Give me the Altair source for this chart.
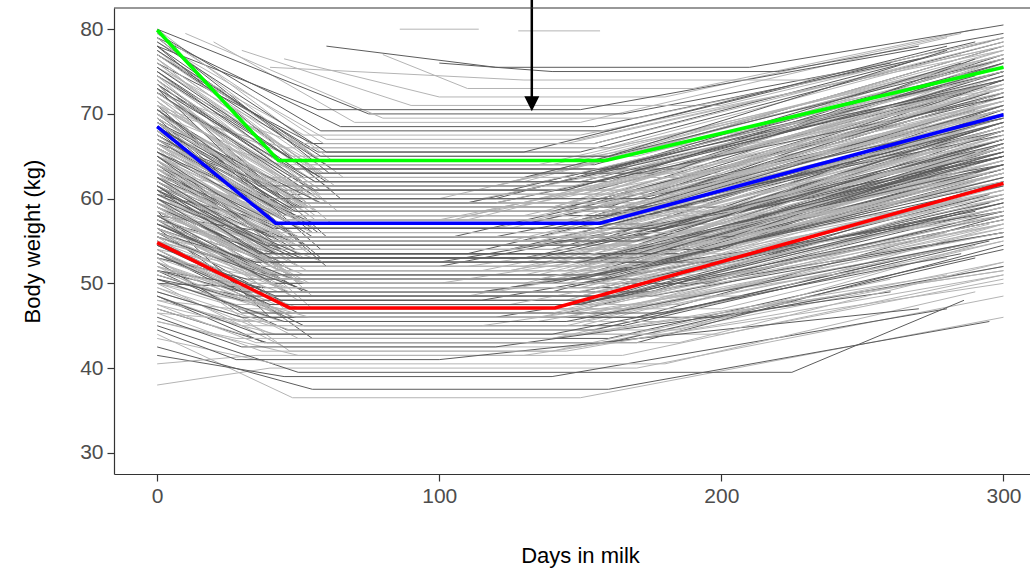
import altair as alt
import pandas as pd

# ---------------- individual animal curves (start, trough start, trough end, end) ----
d0 = [0,0,0,0,0,0,0,0,
      0,0,0,0,0,0,0,0,0,0,0,0,0,0,0,0,0,0,0,0,
      0,0,0,0,0,0,0,0,0,0,0,0,0,0,0,0,0,0,0,0,0,0,0,0,0,0,0,0,
      0,0,0,0,0,0,0,0,0,0,0,0,0,0,0,0,0,0,0,0,0,0,0,0,0,0,0,0,
      0,0,0,0,0,0,0,0,0,0,0,0,0,0,0,0,0,0,0,0,0,0,0,0,
      0,0,0,0,0,0,0,0,0,0,0,0,0,0,0,0,
      0,0,20,0,0,30,0,45,10,0,
      80,60,86,128,40,100]
w0 = [44.0,38.0,42.5,41.5,40.5,45.0,43.5,45.5,
      50.0,48.5,52.0,47.5,51.5,49.0,53.5,50.5,46.5,54.0,52.5,48.0,55.0,51.0,56.5,49.5,53.0,47.0,55.5,50.0,
      56.0,53.5,58.0,55.0,52.0,57.5,59.0,54.5,56.5,51.5,60.0,57.0,55.5,61.0,53.0,58.5,56.0,62.0,59.5,54.0,60.5,57.0,63.0,52.5,58.0,61.5,55.0,50.0,
      62.5,59.0,64.0,61.0,57.5,65.5,60.0,63.0,58.5,66.0,62.0,59.5,64.5,67.0,61.5,63.5,58.0,68.0,65.0,60.5,66.5,62.5,69.0,57.0,64.0,70.0,59.0,55.5,
      67.5,64.0,70.5,66.0,62.5,71.5,68.5,65.0,72.5,69.5,63.5,73.0,67.0,70.0,74.0,66.5,71.0,68.0,75.0,64.5,72.0,69.0,61.0,76.0,
      73.5,76.5,70.0,78.0,74.5,71.0,77.0,75.5,72.5,79.0,68.5,77.5,74.0,70.5,80.0,76.0,
      78.5,79.5,78.5,80.0,77.0,77.5,79.0,76.5,79.5,78.0,
      77.0,78.0,80.0,79.8,75.5,76.0]
d1 = [48,40,55,45,35,50,42,50,
      45,38,50,42,46,40,52,44,36,48,45,40,50,43,55,41,47,39,49,44,
      46,42,50,44,40,48,52,43,46,38,54,45,44,50,40,47,43,53,48,41,50,45,55,39,46,51,42,36,
      48,44,52,46,42,54,45,49,43,53,47,42,50,55,45,48,40,56,51,44,52,46,58,41,49,57,43,38,
      50,45,54,48,43,56,51,46,57,52,42,55,47,53,58,45,50,48,60,43,56,50,40,62,
      52,58,47,60,54,48,57,53,50,61,44,56,51,45,62,55,
      60,58,70,75,52,90,65,100,80,57,
      110,120,114,157,130,140]
w1 = [36.5,40.0,37.5,39.0,41.5,39.5,40.5,41.5,
      42.5,43.0,43.5,44.0,44.5,45.0,45.0,45.5,45.5,46.0,46.0,46.5,46.5,46.5,43.5,44.0,42.0,43.0,45.0,47.0,
      47.5,47.5,48.0,48.0,48.5,48.5,49.0,49.0,49.5,49.5,50.0,50.0,50.5,50.5,50.5,51.0,51.0,51.5,51.5,51.5,52.0,52.0,47.0,48.0,49.0,50.0,51.0,49.5,
      52.5,52.5,53.0,53.0,53.5,53.5,54.0,54.0,54.5,54.5,55.0,55.0,55.5,55.5,55.5,56.0,56.0,56.5,56.5,57.0,57.0,52.0,53.0,54.0,55.0,56.0,53.5,52.5,
      57.5,57.5,58.0,58.0,58.5,58.5,59.0,59.0,59.5,59.5,60.0,60.0,60.5,60.5,61.0,61.0,61.5,61.5,62.0,57.0,58.0,59.0,60.0,61.0,
      62.5,63.0,63.5,64.0,64.5,65.0,65.5,66.0,66.5,63.0,64.0,65.0,62.0,66.0,64.5,66.5,
      67.0,68.0,69.0,70.0,67.5,71.0,68.5,72.0,69.5,70.5,
      73.0,75.5,80.0,79.8,74.0,75.0]
d2 = [150,170,160,140,130,225,180,165,
      150,160,140,175,155,145,165,150,135,170,150,160,145,155,160,150,140,170,150,165,
      150,160,145,155,170,150,140,160,150,165,155,145,160,150,170,150,155,145,160,150,165,150,140,160,175,150,155,145,
      150,160,145,155,165,150,160,140,155,150,165,150,145,160,150,155,170,150,160,145,155,150,160,140,165,150,155,175,
      150,160,145,155,165,150,160,150,145,155,170,150,160,150,145,155,165,150,160,150,155,145,170,150,
      150,160,145,155,150,165,150,160,145,155,150,170,150,160,145,155,
      150,160,150,165,150,200,155,180,170,150,
      190,210,114,157,230,220]
d3 = [300,300,295,280,300,286,290,300,
      300,290,300,300,285,300,295,300,270,300,300,290,300,280,300,300,260,300,295,300,
      300,300,290,300,300,285,300,300,295,300,300,280,300,300,290,300,300,300,295,300,300,285,300,300,300,270,300,290,
      300,300,300,295,300,300,300,290,300,300,300,285,300,300,300,295,300,300,300,290,300,300,300,280,300,300,300,300,
      300,300,300,295,300,300,290,300,300,300,300,285,300,300,300,295,300,300,300,280,300,300,300,300,
      300,300,290,300,300,295,300,285,300,300,300,290,300,280,300,300,
      300,290,280,260,300,295,270,285,250,300,
      290,300,114,157,300,270]
w3 = [46.0,48.5,45.5,47.0,50.0,48.0,49.0,51.0,
      52.5,53.0,55.0,52.0,54.5,56.5,55.0,57.0,53.5,58.0,55.5,57.5,59.0,56.0,54.0,51.5,50.5,54.5,57.0,60.0,
      60.5,58.5,61.0,62.0,59.5,60.0,63.0,61.5,62.5,60.0,64.0,61.5,63.5,65.0,62.0,64.5,62.5,66.0,65.5,63.0,66.5,64.0,59.0,57.5,62.0,61.0,64.5,58.5,
      67.0,65.0,68.0,66.5,65.5,69.0,67.5,68.0,66.0,70.0,68.5,66.5,69.5,71.0,68.0,69.0,67.0,71.5,70.5,68.5,72.0,64.0,66.0,64.5,70.0,69.0,68.5,63.5,
      72.5,71.0,73.0,72.0,70.5,74.0,73.0,72.5,75.0,74.0,71.5,74.5,75.0,74.5,76.0,73.5,76.5,75.5,77.0,68.0,70.0,72.0,73.0,74.0,
      76.5,77.5,76.0,78.0,77.0,77.5,78.5,77.0,78.0,75.0,73.5,75.5,74.0,74.0,73.0,79.0,
      78.0,78.5,79.0,76.0,77.5,78.5,76.5,79.5,75.0,79.5,
      80.0,80.5,80.0,79.8,79.0,78.0]
shade = [0,0,1,1,0,1,0,0,
         0,1,0,0,1,0,1,0,0,1,0,0,1,0,1,0,0,1,0,0,
         1,0,0,1,0,0,1,0,0,1,0,0,1,0,0,1,0,0,1,0,0,1,0,0,1,0,0,1,
         0,1,0,0,1,0,0,1,0,0,1,0,0,1,0,0,1,0,0,1,0,0,1,0,0,1,0,0,
         1,0,0,1,0,0,1,0,0,1,0,0,1,0,0,1,0,0,1,0,0,1,0,0,
         1,0,0,1,0,0,1,0,0,1,0,0,1,0,0,1,
         0,1,0,1,0,0,1,0,0,1,
         0,1,0,0,0,1]

# second group of animals (all start at day 0)
w0_b = [58.5,61.0,64.5,52.5,66.0,55.0,69.5,60.0,57.5,71.0,63.0,50.5,73.5,65.5,59.5,68.0,54.0,74.5,62.0,66.5,
        56.5,70.5,48.5,76.5,64.0,58.0,72.0,53.5,67.0,61.5,78.0,47.0,69.0,63.5,57.0,75.0,51.0,70.0,65.0,59.0,
        73.0,55.5,67.5,62.5,77.5,49.0,71.5,64.5,58.5,74.0,52.0,68.5,60.5,79.0,56.0,66.0,45.5,72.5,63.0,54.5,
        70.5,61.0,76.0,50.5,67.0,57.5,73.5,59.5,65.5,53.0,69.5,62.0,46.0,75.5,55.0,64.0,60.0,71.0,51.5,66.5,
        58.0,77.0,53.5,68.0,62.5,48.0,72.5,56.5,65.0,59.0,74.5,50.0,69.0,61.5,55.5,70.0,44.5,63.5,57.0,67.5]
d1_b = [40,45,55,30,50,35,60,40,38,58,45,28,60,47,40,52,32,62,42,50,
        35,55,30,64,44,38,56,32,48,40,65,30,50,42,36,60,30,52,45,38,
        57,34,48,41,63,30,53,44,37,58,31,49,39,66,35,46,28,55,42,33,
        51,40,61,30,47,36,56,38,45,32,50,41,30,59,34,43,39,52,30,46,
        37,62,32,48,41,29,54,35,44,38,58,30,49,40,34,51,28,42,36,47]
w1_b = [46.0,47.0,48.5,46.5,50.0,48.5,52.0,50.5,49.5,54.0,51.5,47.5,55.5,53.0,51.0,54.5,49.0,57.0,53.5,55.0,
        51.0,56.0,45.0,58.5,54.0,52.5,57.5,50.0,56.0,54.0,60.0,44.0,57.5,55.5,52.0,59.5,48.0,58.0,56.5,53.5,
        60.0,51.5,58.5,56.0,61.5,46.0,59.5,57.0,53.0,61.0,49.0,59.0,55.0,62.5,52.5,58.0,43.5,60.5,56.5,51.0,
        59.5,55.5,62.0,48.5,58.5,53.5,61.0,54.5,57.5,50.5,60.0,56.0,42.5,63.0,52.0,57.0,55.0,61.0,49.0,58.5,
        54.0,63.5,50.0,59.5,56.5,45.5,61.5,52.5,58.0,54.5,62.5,47.0,60.0,55.5,51.5,60.5,41.0,57.0,53.0,59.0]
d2_b = [120,200,110,180,130,210,100,190,125,200,115,185,105,195,135,180,120,205,110,190,
        130,175,115,200,125,185,105,195,140,180,120,200,110,190,130,175,115,205,125,185,
        100,195,140,180,120,200,110,190,130,175,115,205,125,185,100,195,140,180,120,200,
        110,190,130,175,115,205,125,185,100,195,140,180,120,200,110,190,130,175,115,205,
        125,185,100,195,140,180,120,200,110,190,130,175,115,205,125,185,100,195,140,180]
d3_b = [300,300,290,285,300,300,300,295,300,300,280,300,300,300,290,300,300,300,285,300,
        300,300,280,300,295,300,300,300,290,300,300,300,285,300,300,300,270,300,300,295,
        300,300,300,290,300,300,300,285,300,300,300,300,295,300,300,300,280,300,300,300,
        290,300,300,300,300,285,300,300,300,300,295,300,260,300,300,300,285,300,300,300,
        300,290,300,300,300,300,300,295,300,300,300,280,300,300,300,300,270,300,290,300]
w3_b = [56.0,55.0,60.0,54.5,63.5,57.0,65.0,60.5,61.0,66.5,62.5,55.5,70.5,64.0,63.5,67.0,60.0,70.0,67.5,66.5,
        63.0,70.5,53.0,72.5,68.0,63.0,73.5,58.5,71.0,65.5,76.0,50.5,72.0,66.0,64.5,73.5,57.0,70.0,70.5,63.5,
        75.5,59.0,72.5,66.0,77.5,52.0,74.0,67.5,65.0,74.5,58.0,69.0,68.5,76.5,64.0,68.0,51.0,74.0,69.5,57.0,
        73.0,65.0,77.0,56.0,71.5,60.5,75.0,64.0,71.0,57.5,73.5,66.5,49.0,76.0,61.5,67.0,67.0,73.0,58.5,68.5,
        65.5,76.5,60.5,70.0,68.0,51.5,75.5,59.5,70.0,63.0,76.5,54.0,72.5,64.0,62.0,71.0,47.0,66.5,63.0,69.5]
shade_b = [1,0,0,1,0,0,1,0,0,1,0,0,1,0,0,1,0,0,1,0,
           0,1,0,0,1,0,0,1,0,0,1,0,0,1,0,0,1,0,0,1,
           0,0,1,0,0,1,0,0,1,0,0,1,0,0,1,0,0,1,0,0,
           1,0,0,1,0,0,1,0,0,1,0,0,1,0,0,1,0,0,1,0,
           0,1,0,0,1,0,0,1,0,0,1,0,0,1,0,0,1,0,0,1]

# third group of animals (all start at day 0)
w0_c = [60.5,57.0,63.5,66.0,54.5,69.0,61.5,58.5,72.0,64.5,51.5,67.5,59.5,74.5,62.0,56.5,70.5,65.0,53.0,68.0,
        61.0,77.0,58.0,63.0,71.5,55.5,66.5,49.5,73.0,60.0,64.0,57.5,69.5,62.5,75.5,52.5,67.0,59.0,71.0,65.5,
        54.0,61.5,78.5,56.0,68.5,63.5,47.5,72.5,58.5,66.0,60.5,74.0,53.5,69.0,62.0,57.0,76.5,64.5,50.5,70.0,
        59.5,65.5,55.0,73.5,61.0,67.5,48.5,71.0,63.0,58.0,79.5,66.5,54.5,69.5,60.0,64.0,52.0,75.0,57.5,68.0,
        62.5,56.0,72.5,65.0,51.0,70.5,59.0,63.5,77.5,55.5,67.0,61.5,46.5,73.0,58.5,66.5,53.5,69.0,64.5,60.0]
d1_c = [44,50,38,55,42,47,36,52,58,41,49,45,39,56,43,53,48,37,51,46,
        40,57,44,50,38,54,42,47,36,59,45,41,52,48,55,39,46,43,57,50,
        37,53,60,44,49,40,35,55,47,42,51,38,46,58,43,48,54,39,45,52,
        41,56,47,37,50,44,36,53,48,40,59,45,42,51,38,55,46,49,43,57,
        39,52,47,41,54,44,36,50,58,45,48,42,37,56,46,51,40,53,44,49]
w1_c = [52.0,49.5,54.5,56.5,48.0,58.0,53.5,51.0,60.5,55.0,46.0,57.5,52.5,62.0,54.0,50.0,59.0,56.0,47.0,58.5,
        53.0,64.0,50.5,55.5,60.0,49.0,57.0,44.5,61.5,52.5,55.5,50.0,59.0,54.5,63.0,47.5,58.0,51.5,60.0,56.5,
        48.5,54.0,65.5,49.5,58.5,55.0,43.0,61.0,51.0,57.0,53.0,62.5,47.5,59.5,54.0,50.5,64.0,56.0,45.5,60.0,
        52.0,57.0,49.0,62.0,53.5,58.0,44.0,60.5,55.0,51.0,66.5,57.5,48.5,59.5,52.5,56.0,46.5,63.5,50.5,58.5,
        54.5,50.0,61.5,56.5,46.0,60.0,52.0,55.5,65.0,49.5,58.0,53.5,42.0,62.0,51.5,57.5,47.5,59.0,56.0,53.0]
d2_c = [150,165,140,175,155,130,185,145,160,170,135,150,180,125,165,155,140,190,145,160,
        170,135,155,120,175,150,145,185,130,160,155,140,165,150,175,125,160,145,135,180,
        150,165,130,155,170,140,185,145,160,150,135,175,155,120,165,150,140,190,145,160,
        170,130,155,150,175,145,140,185,135,160,155,145,165,120,150,180,140,160,135,170,
        150,165,130,155,145,175,140,185,160,150,135,170,145,155,125,165,150,140,180,155]
d3_c = [300,295,300,290,300,300,285,300,295,300,300,290,300,300,280,300,295,300,300,290,
        300,300,285,300,295,300,300,290,300,300,295,300,300,285,300,300,290,300,300,295,
        300,300,280,300,300,295,300,290,300,300,300,285,300,300,295,300,300,270,300,300,
        290,300,300,295,300,300,285,300,300,300,300,295,300,290,300,300,300,285,300,295,
        300,300,290,300,300,295,300,300,280,300,300,290,300,300,295,300,285,300,300,300]
w3_c = [63.0,60.5,66.0,68.5,58.0,71.0,64.5,62.5,73.5,67.0,56.5,70.0,63.5,75.0,66.5,61.0,72.5,68.0,57.5,70.5,
        65.0,76.5,62.0,67.5,72.0,59.5,69.5,54.5,74.0,64.5,68.0,61.5,71.5,66.0,76.0,58.5,70.5,63.0,73.0,68.5,
        59.0,66.0,78.0,61.0,71.0,67.0,52.5,74.5,62.5,69.0,65.5,75.5,58.0,72.0,65.5,62.0,77.0,68.0,55.5,73.0,
        64.0,69.5,60.0,74.5,65.5,70.5,53.5,73.5,67.0,62.5,78.5,70.0,59.5,72.0,64.0,68.5,57.0,76.0,62.0,71.0,
        66.5,61.0,74.0,69.0,56.0,72.5,63.5,67.5,77.5,60.5,70.0,65.5,51.0,74.5,63.0,70.0,58.5,71.5,68.0,65.0]
shade_c = [0,1,0,0,1,0,1,0,0,1,0,0,1,0,1,0,0,1,0,0,
           1,0,0,1,0,1,0,0,1,0,0,1,0,0,1,0,1,0,0,1,
           0,0,1,0,1,0,0,1,0,0,1,0,0,1,0,1,0,0,1,0,
           0,1,0,0,1,0,1,0,0,1,0,0,1,0,1,0,0,1,0,0,
           1,0,0,1,0,1,0,0,1,0,0,1,0,1,0,0,1,0,0,1]

# ---------------- summary curves ----------------
green_days = [0, 43, 159, 300]
green_w = [79.9, 64.5, 64.5, 75.5]
blue_days = [0, 42, 157, 300]
blue_w = [68.5, 57.1, 57.1, 69.9]
red_days = [0, 47, 141, 300]
red_w = [54.8, 47.1, 47.1, 61.8]

# arrow annotation
arrow_day = [132.8]
arrow_tip = [70.3]
arrow_top = [83.5]
arrow_base = [72.0]

x_ticks = [0, 100, 200, 300]
y_ticks = [30, 40, 50, 60, 70, 80]
x_domain = [-15.3, 309.4]
y_domain = [27.5, 82.5]

# ---------------- build tables ----------------
rows = []
def add_curve(cid, a, b, c, d, e, f, g, s):
    pts = [(a, b), (c, d), (e, d), (f, g)]
    for k, (dd, ww) in enumerate(pts):
        rows.append({"id": cid, "k": k, "day": dd, "w": ww,
                     "shade": "dark" if s else "light"})

for i in range(len(w0)):
    add_curve(i, d0[i], w0[i], d1[i], w1[i], d2[i], d3[i], w3[i], shade[i])
for j in range(len(w0_b)):
    add_curve(1000 + j, 0, w0_b[j], d1_b[j], w1_b[j], d2_b[j], d3_b[j], w3_b[j], shade_b[j])
for j in range(len(w0_c)):
    add_curve(2000 + j, 0, w0_c[j], d1_c[j], w1_c[j], d2_c[j], d3_c[j], w3_c[j], shade_c[j])
gray_df = pd.DataFrame(rows)

sum_rows = []
for name, ds, ws in [("red", red_days, red_w), ("blue", blue_days, blue_w),
                     ("green", green_days, green_w)]:
    for k, (d, w) in enumerate(zip(ds, ws)):
        sum_rows.append({"series": name, "k": k, "day": d, "w": w})
sum_df = pd.DataFrame(sum_rows)

arrow_df = pd.DataFrame({"day": arrow_day, "tip": arrow_tip,
                         "top": arrow_top, "base": arrow_base})

FONT = "Liberation Sans"

xscale = alt.Scale(domain=x_domain, nice=False, zero=False)
yscale = alt.Scale(domain=y_domain, nice=False, zero=False)

xaxis = alt.Axis(values=x_ticks, title="Days in milk", grid=False,
                 titleX=466, titlePadding=39)
yaxis = alt.Axis(values=y_ticks, title="Body weight (kg)", grid=False,
                 titlePadding=35)

gray = alt.Chart(gray_df).mark_line(strokeWidth=1, clip=True).encode(
    x=alt.X("day:Q", scale=xscale, axis=xaxis),
    y=alt.Y("w:Q", scale=yscale, axis=yaxis),
    detail="id:N",
    order="k:Q",
    color=alt.Color("shade:N", scale=alt.Scale(domain=["light", "dark"],
                                               range=["#b4b4b4", "#5c5c5c"]),
                    legend=None),
)

summary = alt.Chart(sum_df).mark_line(strokeWidth=3.5).encode(
    x=alt.X("day:Q", scale=xscale),
    y=alt.Y("w:Q", scale=yscale),
    detail="series:N",
    order="k:Q",
    color=alt.Color("series:N", scale=alt.Scale(domain=["red", "blue", "green"],
                                                range=["#ff0000", "#0000ff", "#00ff00"]),
                    legend=None),
)

shaft = alt.Chart(arrow_df).mark_rule(color="black", strokeWidth=2.5).encode(
    x=alt.X("day:Q", scale=xscale),
    y=alt.Y("top:Q", scale=yscale),
    y2="base:Q",
)
head = alt.Chart(arrow_df).mark_point(
    shape="M-0.5,-1L0.5,-1L0,0Z", filled=True, color="black", opacity=1, size=900,
).encode(
    x=alt.X("day:Q", scale=xscale),
    y=alt.Y("tip:Q", scale=yscale),
)

top_border = alt.Chart(arrow_df).mark_rule(color="#333333", strokeWidth=1.2).encode(
    x=alt.value(0), x2=alt.value(916), y=alt.value(0)
)

chart = alt.layer(gray, summary, shaft, head, top_border).resolve_scale(
    color="independent"
).properties(
    width=916, height=466,
    background="white",
    autosize=alt.AutoSizeParams(type="none"),
    padding={"left": 114, "top": 8, "right": 0, "bottom": 95},
).configure_view(stroke=None).configure_axis(
    domainColor="#333333", domainWidth=1.2,
    tickColor="#333333", tickWidth=1.2, tickSize=7,
    labelColor="#4d4d4d", labelFont=FONT, labelFontSize=21, labelPadding=4,
    titleColor="#000000", titleFont=FONT, titleFontSize=22, titleFontWeight="normal",
)

chart.save("out.html", embed_options={"renderer": "svg", "actions": False})
